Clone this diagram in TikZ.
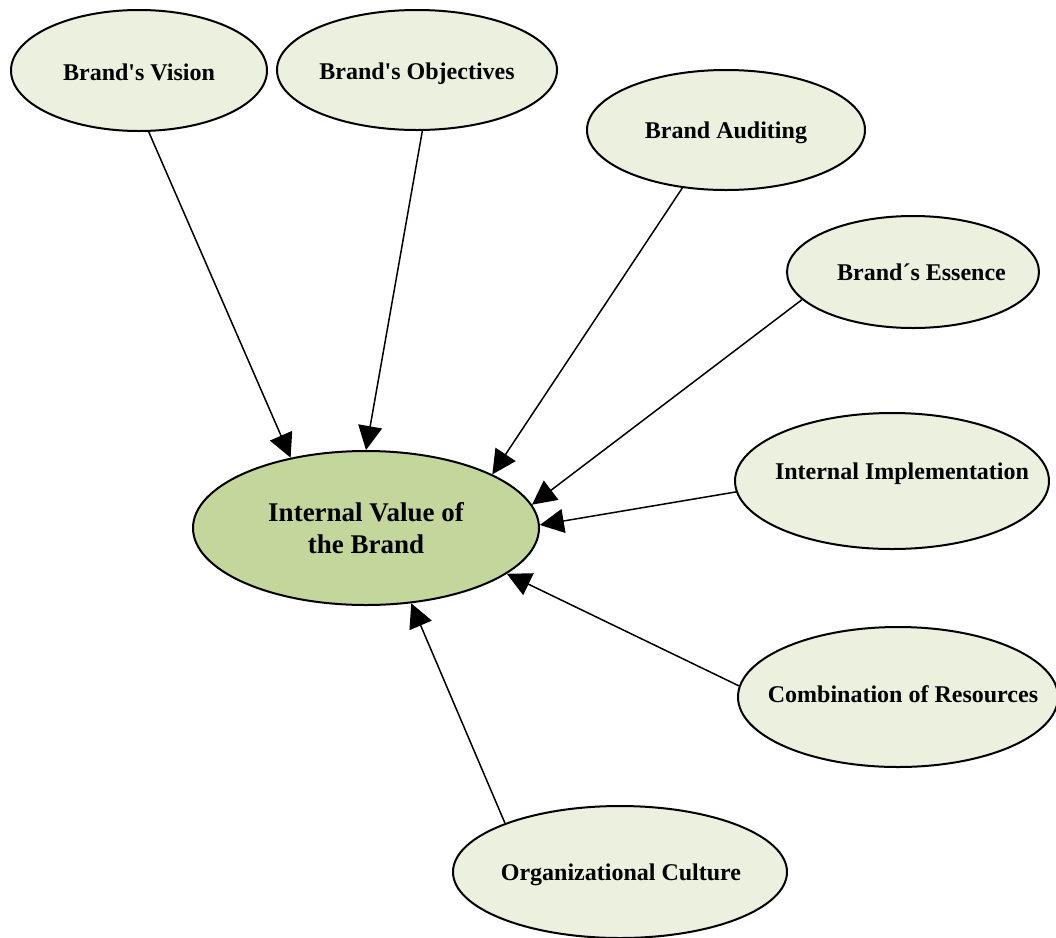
\documentclass[tikz,border=0pt]{standalone}
\usepackage{fontspec}
\setmainfont{Liberation Serif}
\usetikzlibrary{shapes.geometric,arrows.meta}
\definecolor{corefill}{HTML}{C3D69B}
\definecolor{bubblefill}{HTML}{EBF1DE}
% text of a bubble, moved right by #1 and up by #2
\newcommand{\blab}[3]{\makebox[0pt]{\hspace*{#1}\hspace*{#1}\raisebox{#2}[0pt][0pt]{#3}}}
\newcommand{\apos}{\textquotesingle}
\begin{document}
\begin{tikzpicture}
  [x=0.5pt, y=-0.5pt, ->, >={Triangle[length=12pt,width=12pt]},
    line width=0.75pt,
    align=center,
    bubble/.style={%
      ellipse, draw, line width=1pt, fill=bubblefill, inner sep=0pt,
      text height=8pt, text depth=0pt,
      font=\fontsize{12}{14}\selectfont\bfseries
    },
    core/.style={%
      ellipse, draw, line width=1pt, fill=corefill, inner sep=0pt,
      minimum width=173pt, minimum height=77pt,
      font=\fontsize{13.5}{16}\selectfont\bfseries
    },
  ]
  \useasboundingbox (0,0) rectangle (1056,938);

  \node[core] (ivb) at (366,528) {Internal Value of\\the Brand};

  \node[bubble, minimum width=128pt, minimum height=60.5pt] (vis) at (139,70.5) {\blab{0pt}{-1pt}{Brand\apos s Vision}};
  \node[bubble, minimum width=140pt, minimum height=60pt] (obj) at (417,70) {\blab{0pt}{-0.5pt}{Brand\apos s Objectives}};
  \node[bubble, minimum width=139pt, minimum height=60pt] (aud) at (726,130) {\blab{0pt}{0pt}{Brand Auditing}};
  \node[bubble, minimum width=126pt, minimum height=56pt] (ess) at (913,272) {\blab{4.25pt}{0pt}{Brand´s Essence}};
  \node[bubble, minimum width=157pt, minimum height=68pt] (imp) at (892,481) {\blab{5pt}{5pt}{Internal Implementation}};
  \node[bubble, minimum width=160pt, minimum height=70pt] (com) at (898,697) {\blab{2.5pt}{1.5pt}{Combination of Resources}};
  \node[bubble, minimum width=167pt, minimum height=66pt] (cul) at (620,872) {\blab{0.5pt}{0pt}{Organizational Culture}};

  \draw (vis.-81.5) -- (ivb.137);
  \draw (obj.-85.3) -- (ivb.90);
  \draw (aud.-127) -- (ivb.23.5);
  \draw (ess.-166) -- (ivb.8.3);
  \draw (imp.-176.3) -- (ivb.1);
  \draw (com.176.8) -- (ivb.-18.8);
  \draw (cul.157.8) -- (ivb.-59.6);

\end{tikzpicture}
\end{document}
